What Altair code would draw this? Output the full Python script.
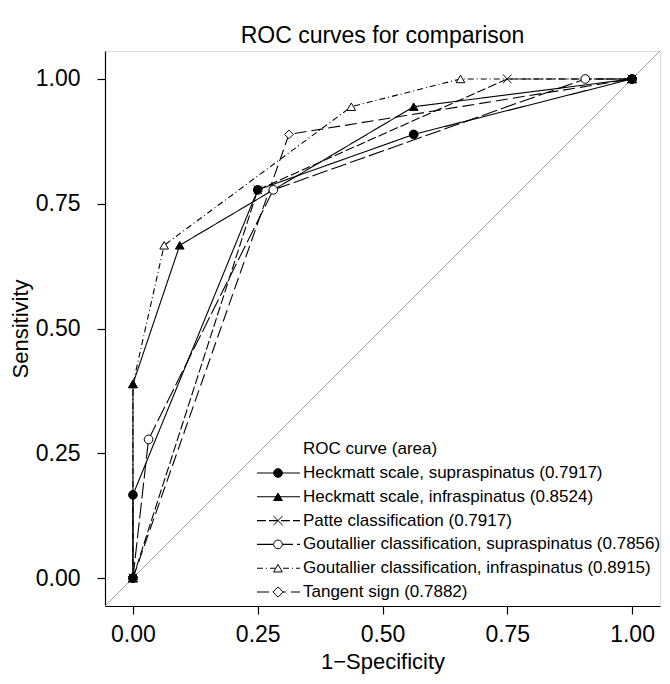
import altair as alt
import pandas as pd

FONT = "Liberation Sans"

series_names = [
    "Heckmatt scale, supraspinatus (0.7917)",
    "Heckmatt scale, infraspinatus (0.8524)",
    "Patte classification (0.7917)",
    "Goutallier classification, supraspinatus (0.7856)",
    "Goutallier classification, infraspinatus (0.8915)",
    "Tangent sign (0.7882)",
]

# 1 - specificity (x) and sensitivity (y) for each curve
fpr_heck_supra = [0, 0, 0.25, 0.5625, 1]
tpr_heck_supra = [0, 0.1667, 0.7778, 0.8889, 1]
fpr_heck_infra = [0, 0, 0.09375, 0.5625, 1]
tpr_heck_infra = [0, 0.3889, 0.6667, 0.9444, 1]
fpr_patte = [0, 0.25, 0.75, 1]
tpr_patte = [0, 0.7778, 1, 1]
fpr_gout_supra = [0, 0.03125, 0.28125, 0.90625, 1]
tpr_gout_supra = [0, 0.2778, 0.7778, 1, 1]
fpr_gout_infra = [0, 0, 0.0625, 0.4375, 0.65625, 1]
tpr_gout_infra = [0, 0.3889, 0.6667, 0.9444, 1, 1]
fpr_tangent = [0, 0.3125, 1]
tpr_tangent = [0, 0.8889, 1]

tick_values = [0, 0.25, 0.5, 0.75, 1]
axis_domain = [-0.056, 1.056]
legend_title = "ROC curve (area)"

fprs = [fpr_heck_supra, fpr_heck_infra, fpr_patte, fpr_gout_supra, fpr_gout_infra, fpr_tangent]
tprs = [tpr_heck_supra, tpr_heck_infra, tpr_patte, tpr_gout_supra, tpr_gout_infra, tpr_tangent]

# styles
dashes = [[1, 0], [1, 0], [9, 3], [16, 4], [6, 3, 1, 3], [12, 5]]
shapes = ["circle", "triangle-up", "M-1,-1L1,1M-1,1L1,-1", "circle", "triangle-up", "diamond"]
fills = ["black", "black", "white", "white", "white", "white"]
sizes = [75, 75, 85, 75, 75, 105]

rows = []
for s, (fx, ty) in enumerate(zip(fprs, tprs)):
    for k, (a, b) in enumerate(zip(fx, ty)):
        rows.append({"series": series_names[s], "fpr": a, "tpr": b, "step": k, "sid": s})
df = pd.DataFrame(rows)
# draw hollow markers first so filled ones end up on top
df_points = df.sort_values(["sid", "step"], ascending=[False, True])

xsc = alt.Scale(domain=axis_domain, nice=False, zero=False)
ysc = alt.Scale(domain=axis_domain, nice=False, zero=False)

common_axis = dict(
    values=tick_values, format=".2f", grid=False, tickSize=8, tickWidth=1.2,
    tickColor="black", domainColor="black", domainWidth=1.2,
    labelFont=FONT, labelFontSize=23, labelColor="black",
    titleFont=FONT, titleFontSize=22, titleColor="black", titleFontWeight="normal",
)
xaxis = alt.Axis(title="1\u2212Specificity", labelPadding=9, titlePadding=5, **common_axis)
yaxis = alt.Axis(title="Sensitivity", labelPadding=17, titlePadding=3, **common_axis)

diag = alt.Chart(pd.DataFrame({"v": axis_domain})).mark_line(
    color="#999999", strokeWidth=0.9, clip=True
).encode(
    x=alt.X("v:Q", scale=xsc, axis=xaxis),
    y=alt.Y("v:Q", scale=ysc, axis=yaxis),
)

lines = alt.Chart(df).mark_line(color="black", strokeWidth=1.1).encode(
    x=alt.X("fpr:Q", scale=xsc, axis=xaxis),
    y=alt.Y("tpr:Q", scale=ysc, axis=yaxis),
    strokeDash=alt.StrokeDash("series:N", scale=alt.Scale(domain=series_names, range=dashes), legend=None),
    detail="series:N",
    order=alt.Order("step:Q"),
)

points = alt.Chart(df_points).mark_point(
    opacity=1, fillOpacity=1, stroke="black", strokeWidth=1
).encode(
    x=alt.X("fpr:Q", scale=xsc, axis=xaxis),
    y=alt.Y("tpr:Q", scale=ysc, axis=yaxis),
    shape=alt.Shape("series:N", scale=alt.Scale(domain=series_names, range=shapes), legend=None),
    fill=alt.Fill("series:N", scale=alt.Scale(domain=series_names, range=fills), legend=None),
    size=alt.Size("series:N", scale=alt.Scale(domain=series_names, range=sizes), legend=None),
)

# manual legend (inside plot, bottom right)
LEG_TOP = 422
LEG_STEP = 23.8
LINE_X0, LINE_X1, MARK_X, TEXT_X = 152, 195, 173, 198
LEG_FONT = 17

legend_layers = [
    alt.Chart(pd.DataFrame({"t": [legend_title]})).mark_text(
        align="left", baseline="middle", font=FONT, fontSize=LEG_FONT, color="black"
    ).encode(text="t:N", x=alt.value(TEXT_X), y=alt.value(LEG_TOP - 24))
]
for i, name in enumerate(series_names):
    d = pd.DataFrame({"t": [name]})
    yv = LEG_TOP + i * LEG_STEP
    legend_layers.append(
        alt.Chart(d).mark_rule(color="black", strokeWidth=1.1, strokeDash=dashes[i]).encode(
            x=alt.value(LINE_X0), x2=alt.value(LINE_X1), y=alt.value(yv)
        )
    )
    legend_layers.append(
        alt.Chart(d).mark_point(
            shape=shapes[i], size=sizes[i], fill=fills[i], stroke="black",
            strokeWidth=1, opacity=1, fillOpacity=1
        ).encode(x=alt.value(MARK_X), y=alt.value(yv))
    )
    legend_layers.append(
        alt.Chart(d).mark_text(
            align="left", baseline="middle", font=FONT, fontSize=LEG_FONT, color="black"
        ).encode(text="t:N", x=alt.value(TEXT_X), y=alt.value(yv))
    )

chart = alt.layer(diag, lines, points, *legend_layers).properties(
    width=555,
    height=555,
    title=alt.TitleParams(
        "ROC curves for comparison", font=FONT, fontSize=23, fontWeight="normal",
        color="black", anchor="middle", offset=3
    ),
    autosize=alt.AutoSizeParams(type="none"),
    padding={"left": 97, "top": 43, "right": 2, "bottom": 70},
).configure_view(stroke=None).configure(background="white")

chart.save("out.html", embed_options={"renderer": "svg", "actions": False})
